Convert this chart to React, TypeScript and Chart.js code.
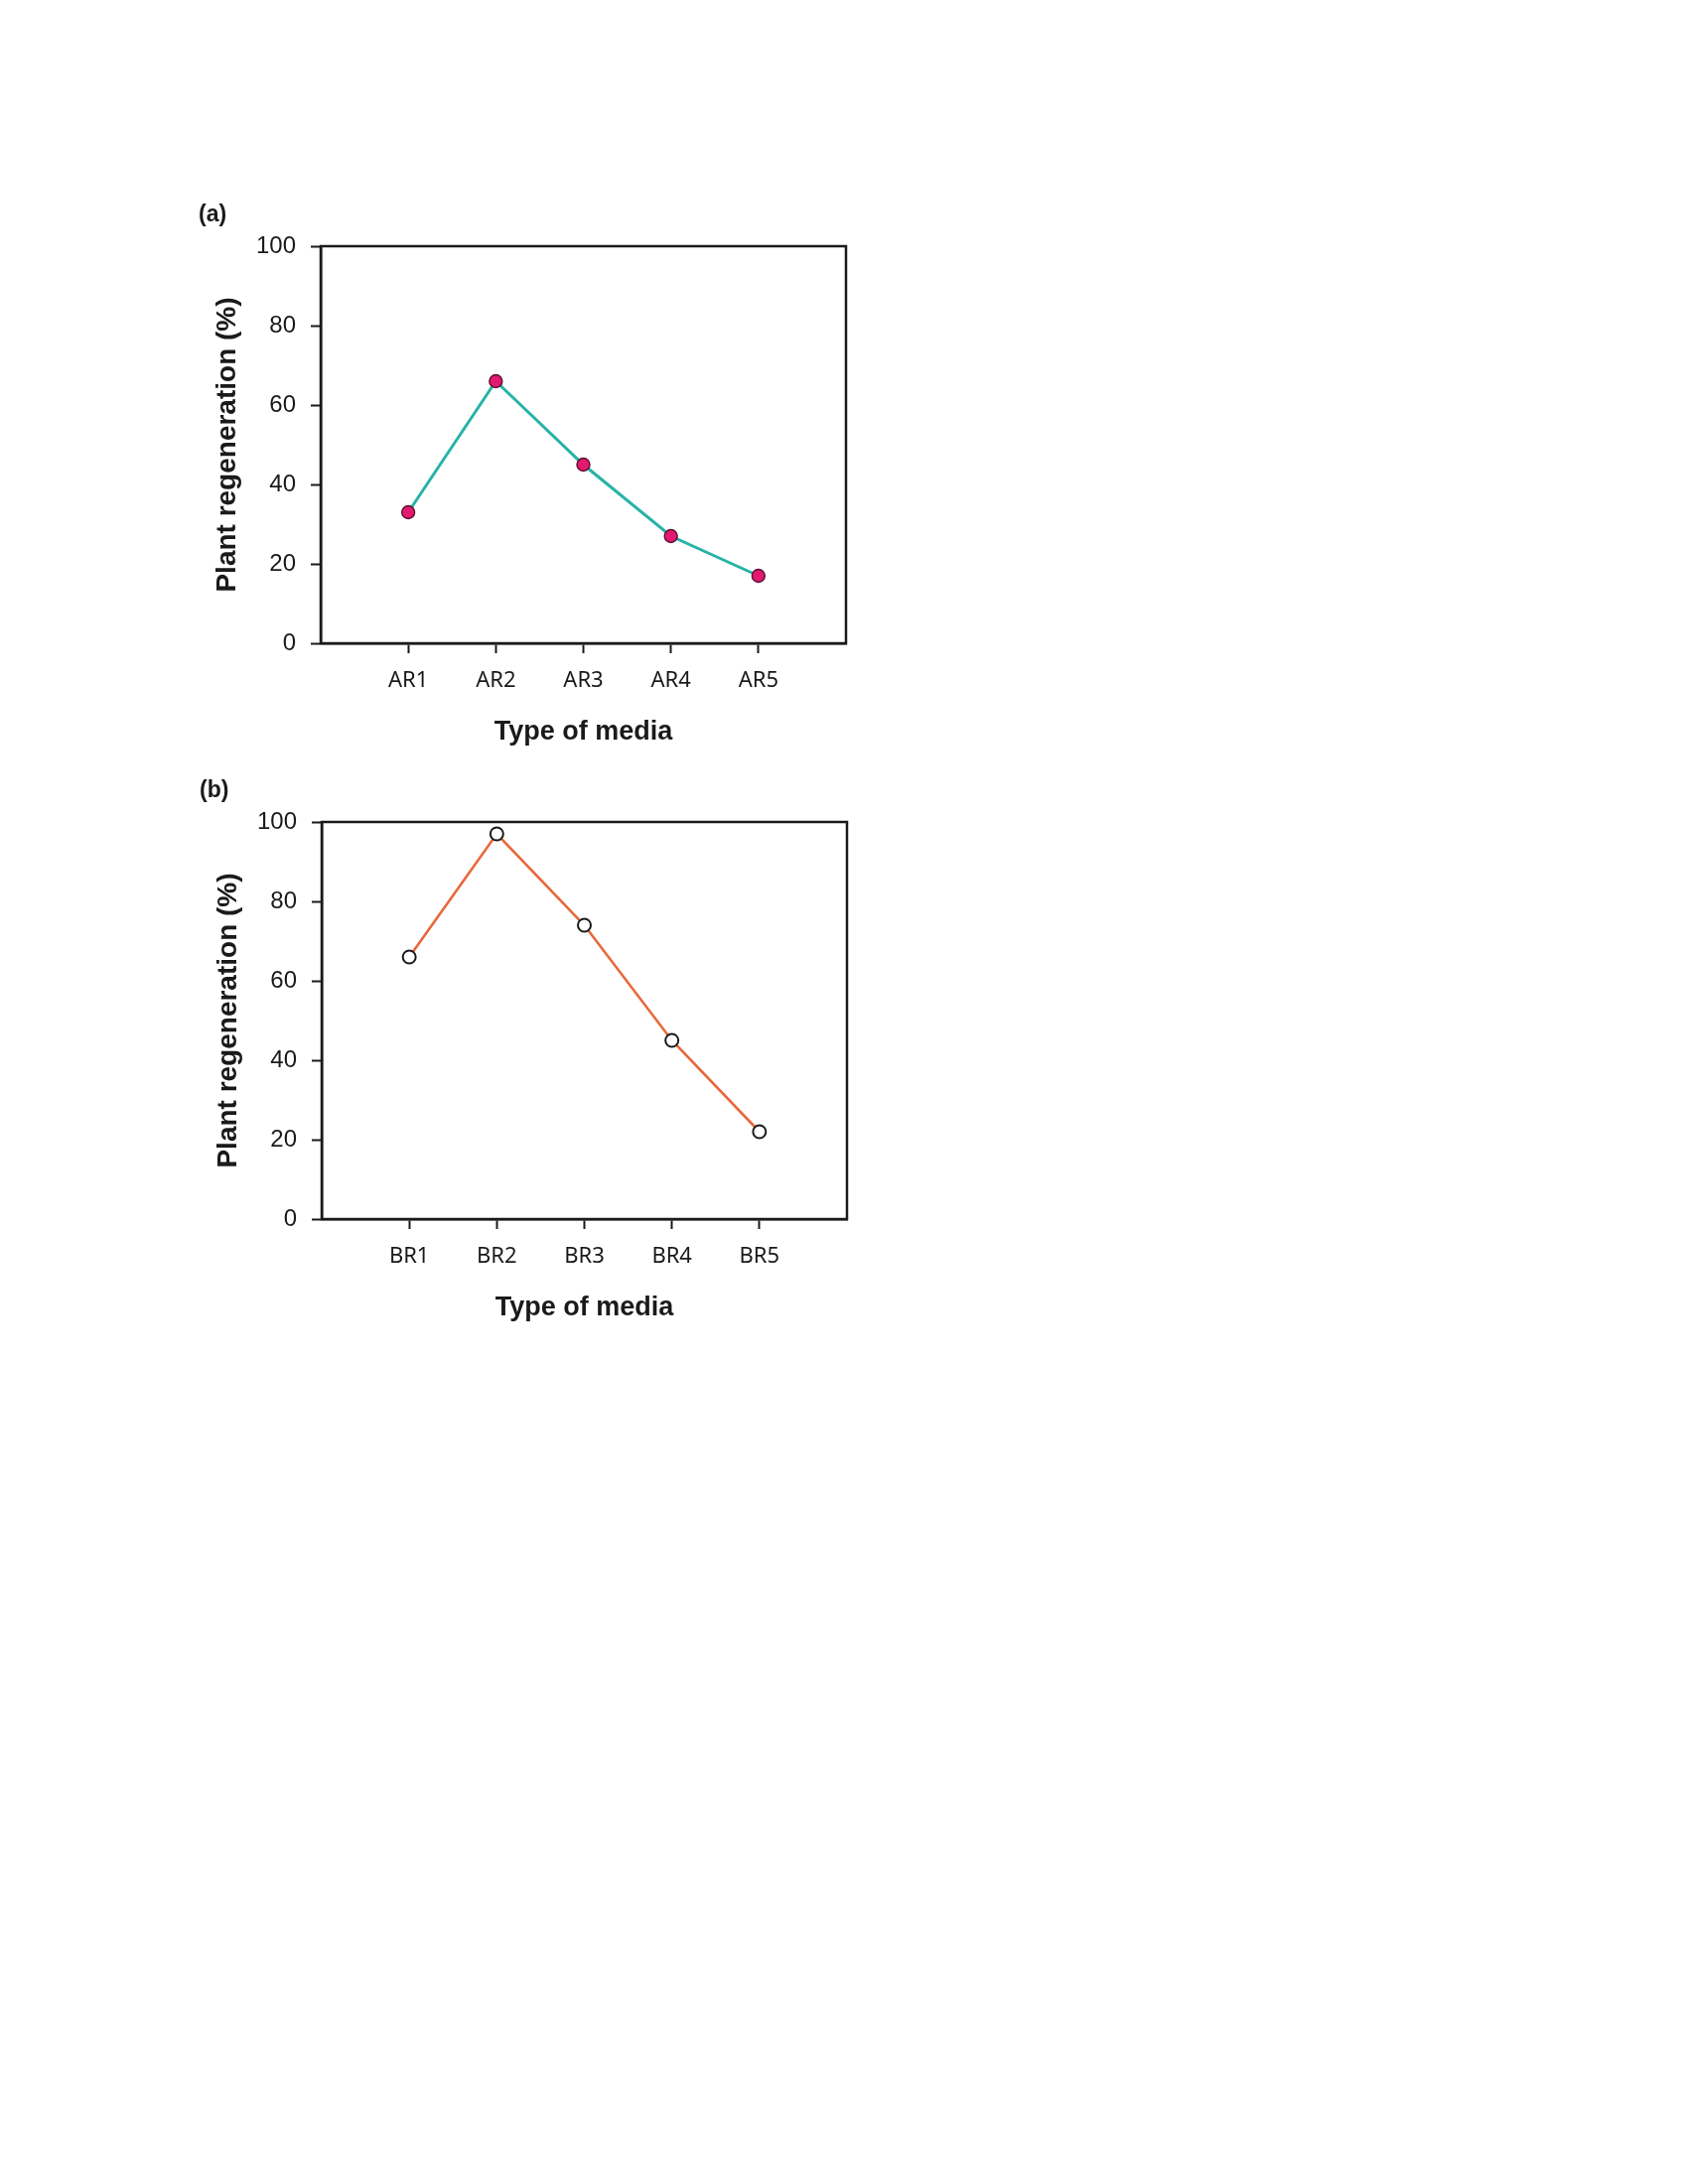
import { useEffect, useRef } from 'react';
import { Chart, registerables } from 'chart.js';

Chart.register(...registerables);

// ---- data ----
const categoriesA = ['AR1', 'AR2', 'AR3', 'AR4', 'AR5'];
const valuesA = [33, 66, 45, 27, 17];
const categoriesB = ['BR1', 'BR2', 'BR3', 'BR4', 'BR5'];
const valuesB = [66, 97, 74, 45, 22];
const yTickValues = [0, 20, 40, 60, 80, 100];
const xTitleText = 'Type of media';
const yTitleText = 'Plant regeneration (%)';

const SANS = '"Liberation Sans", Arial, Helvetica, sans-serif';
const NARROW = '"Noto Sans", "Open Sans", sans-serif';
const INK = '#1a1a1a';

const CANVAS_W = 720;
const CANVAS_H = 580;

type PanelProps = {
  label: string;
  categories: string[];
  values: number[];
  lineColor: string;
  pointFill: string;
  pointBorder: string;
  pointBorderWidth: number;
  lineWidth: number;
  top: number;
  left: number;
};

function Panel(props: PanelProps) {
  const ref = useRef<HTMLCanvasElement | null>(null);

  useEffect(() => {
    if (!ref.current) return;
    const { label, categories, values } = props;

    const framePlugin = {
      id: 'frame',
      afterDatasetsDraw(chart: any) {
        const { ctx, chartArea } = chart;
        ctx.save();
        ctx.strokeStyle = INK;
        ctx.lineWidth = 2.5;
        ctx.strokeRect(chartArea.left, chartArea.top, chartArea.right - chartArea.left, chartArea.bottom - chartArea.top);
        ctx.restore();
      },
      afterDraw(chart: any) {
        const { ctx } = chart;
        ctx.save();
        ctx.fillStyle = INK;
        ctx.font = `bold 23px ${SANS}`;
        ctx.textAlign = 'left';
        ctx.textBaseline = 'middle';
        ctx.fillText(label, 20, 27);
        ctx.restore();
      },
    };

    const chart = new Chart(ref.current, {
      type: 'line',
      data: {
        datasets: [
          {
            data: values.map((v, i) => ({ x: i + 1, y: v })),
            borderColor: props.lineColor,
            borderWidth: props.lineWidth,
            pointRadius: 6.5,
            pointBackgroundColor: props.pointFill,
            pointBorderColor: props.pointBorder,
            pointBorderWidth: props.pointBorderWidth,
            tension: 0,
            fill: false,
            clip: false as any,
          },
        ],
      },
      options: {
        animation: false,
        responsive: false,
        maintainAspectRatio: false,
        devicePixelRatio: 1,
        layout: { padding: { top: 58, right: 48, left: 0, bottom: 0 } },
        plugins: { legend: { display: false }, tooltip: { enabled: false }, title: { display: false } },
        scales: {
          x: {
            type: 'linear',
            min: 0,
            max: 6,
            afterBuildTicks: (s: any) => {
              s.ticks = categories.map((_, i) => ({ value: i + 1 }));
            },
            afterFit: (s: any) => {
              s.height = 122;
            },
            ticks: {
              callback: (v: any) => categories[Number(v) - 1] ?? '',
              font: { family: NARROW, size: 22 },
              color: INK,
              padding: 15,
              maxRotation: 0,
              autoSkip: false,
            },
            grid: { drawOnChartArea: false, drawTicks: true, tickLength: 10, tickColor: INK, tickWidth: 2 },
            border: { display: true, color: INK, width: 2.5 },
            title: {
              display: true,
              text: xTitleText,
              color: INK,
              font: { family: SANS, size: 27, weight: 'bold' },
              padding: { top: 0, bottom: 16 },
            },
          },
          y: {
            type: 'linear',
            min: 0,
            max: 100,
            afterBuildTicks: (s: any) => {
              s.ticks = yTickValues.map((v) => ({ value: v }));
            },
            afterFit: (s: any) => {
              s.width = 143;
            },
            ticks: {
              font: { family: SANS, size: 24 },
              color: INK,
              padding: 15,
            },
            grid: { drawOnChartArea: false, drawTicks: true, tickLength: 10, tickColor: INK, tickWidth: 2 },
            border: { display: true, color: INK, width: 2.5 },
            title: {
              display: true,
              text: yTitleText,
              color: INK,
              font: { family: SANS, size: 28, weight: 'bold' },
              padding: { top: 32, bottom: 0 },
            },
          },
        },
      } as any,
      plugins: [framePlugin],
    });

    return () => chart.destroy();
  }, []);

  return (
    <canvas
      ref={ref}
      width={CANVAS_W}
      height={CANVAS_H}
      style={{
        position: 'absolute',
        left: props.left,
        top: props.top,
        width: CANVAS_W,
        height: CANVAS_H,
      }}
    />
  );
}

export default function App() {
  return (
    <div style={{ position: 'absolute', left: 0, top: 0, width: 1700, height: 2200, background: '#fff' }}>
      <Panel
        label="(a)"
        categories={categoriesA}
        values={valuesA}
        lineColor="#27b3a6"
        pointFill="#e3196f"
        pointBorder="#5a1030"
        pointBorderWidth={1.4}
        lineWidth={3}
        top={190}
        left={180}
      />
      <Panel
        label="(b)"
        categories={categoriesB}
        values={valuesB}
        lineColor="#e8683a"
        pointFill="#ffffff"
        pointBorder="#1a1a1a"
        pointBorderWidth={2}
        lineWidth={2.6}
        top={770}
        left={181}
      />
    </div>
  );
}
